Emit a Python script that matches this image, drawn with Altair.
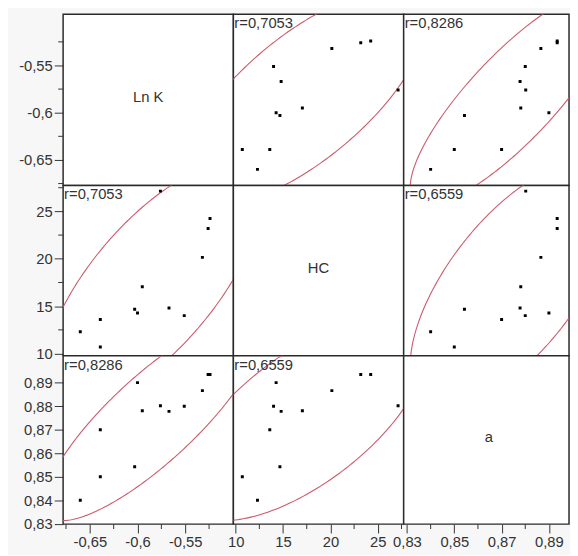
import altair as alt
import numpy as np
import pandas as pd

# ---- data ----
var_names = ["Ln K", "HC", "a"]
ln_k = [-0.639, -0.660, -0.639, -0.551, -0.567, -0.600, -0.603, -0.595, -0.532, -0.526, -0.524, -0.576]
hc = [10.7, 12.3, 13.6, 14.0, 14.8, 14.27, 14.67, 17.04, 20.15, 23.2, 24.25, 27.14]
a_val = [0.850, 0.840, 0.870, 0.880, 0.8778, 0.890, 0.8543, 0.8781, 0.8866, 0.8935, 0.8935, 0.8802]
r_text = {(0, 1): "r=0,7053", (0, 2): "r=0,8286", (1, 2): "r=0,6559"}

# axis ticks (major labelled, minor unlabelled)
x_major = [[-0.65, -0.6, -0.55], [10, 15, 20, 25], [0.83, 0.85, 0.87, 0.89]]
x_minor = [[-0.675, -0.625, -0.575, -0.525], [12.5, 17.5, 22.5, 27.5], [0.84, 0.86, 0.88]]
y_major = [[-0.65, -0.6, -0.55], [10, 15, 20, 25], [0.83, 0.84, 0.85, 0.86, 0.87, 0.88, 0.89]]
y_minor = [[-0.675, -0.625, -0.575, -0.525], [12.5, 17.5, 22.5, 27.5], []]

keys = ["lnk", "hc", "a"]
df = pd.DataFrame({"lnk": ln_k, "hc": hc, "a": a_val})

widths = [173, 173, 168]
heights = [174, 173, 171]
x_dom = [[-0.678, -0.4995], [9.76, 27.73], [0.8286, 0.8985]]
y_dom = [[-0.6771, -0.4958], [9.76, 27.73], [0.8299, 0.9014]]

FONT = "Liberation Sans"
FS = 15
TXT = "#333333"
ELL = "#cc5a6a"
MAJOR_TICK = 9
MINOR_TICK = 5


def ellipse(xs, ys, n=300):
    X = np.array([xs, ys], dtype=float)
    m = X.mean(axis=1)
    L = np.linalg.cholesky(np.cov(X))
    c = np.sqrt(5.991464547)  # 95% bivariate normal contour
    t = np.linspace(0, 2 * np.pi, n)
    p = m[:, None] + c * (L @ np.vstack([np.cos(t), np.sin(t)]))
    return pd.DataFrame({"ex": p[0], "ey": p[1], "i": np.arange(n)})


def make_axis(majors, orient):
    extra = {"minExtent": 55, "maxExtent": 55} if orient == "left" else {}
    return alt.Axis(
        orient=orient,
        values=majors,
        labelExpr="replace(toString(datum.value), '.', ',')",
        tickSize=MAJOR_TICK,
        tickColor=TXT,
        tickWidth=1,
        domain=False,
        grid=False,
        labelFont=FONT,
        labelFontSize=FS,
        labelColor=TXT,
        labelPadding=2,
        labelOverlap=False,
        labelFlush=False,
        title=None,
        **extra,
    )


def panel(r, c):
    W, H = widths[c], heights[r]
    xaxis = make_axis(x_major[c], "bottom") if r == 2 else None
    yaxis = make_axis(y_major[r], "left") if c == 0 else None
    xsc = alt.Scale(domain=x_dom[c], nice=False, zero=False)
    ysc = alt.Scale(domain=y_dom[r], nice=False, zero=False)

    layers = []
    if r == c:
        layers.append(alt.Chart(df).mark_point(opacity=0).encode(
            x=alt.X(f"{keys[c]}:Q", scale=xsc, axis=xaxis),
            y=alt.Y(f"{keys[r]}:Q", scale=ysc, axis=yaxis),
        ))
        layers.append(alt.Chart(pd.DataFrame({"t": [var_names[r]]})).mark_text(
            font=FONT, fontSize=FS, color=TXT, align="center", baseline="middle"
        ).encode(text="t:N", x=alt.value(173 / 2), y=alt.value(H / 2 - 3)))
    else:
        cols = [ln_k, hc, a_val]
        layers.append(alt.Chart(ellipse(cols[c], cols[r])).mark_line(
            color=ELL, strokeWidth=1.1, clip=True
        ).encode(
            x=alt.X("ex:Q", scale=xsc, axis=xaxis),
            y=alt.Y("ey:Q", scale=ysc, axis=yaxis),
            order="i:Q",
        ))
        layers.append(alt.Chart(df).mark_square(size=9, color="black", opacity=1, clip=True).encode(
            x=alt.X(f"{keys[c]}:Q", scale=xsc, axis=xaxis),
            y=alt.Y(f"{keys[r]}:Q", scale=ysc, axis=yaxis),
        ))
        key = (min(r, c), max(r, c))
        layers.append(alt.Chart(pd.DataFrame({"t": [r_text[key]]})).mark_text(
            font=FONT, fontSize=FS, color=TXT, align="left", baseline="top"
        ).encode(text="t:N", x=alt.value(1), y=alt.value(2)))

    # minor ticks (short, unlabelled)
    if c == 0 and y_minor[r]:
        layers.append(alt.Chart(pd.DataFrame({"v": y_minor[r]})).mark_rule(
            color=TXT, strokeWidth=1
        ).encode(
            y=alt.Y("v:Q", scale=ysc, axis=yaxis),
            x=alt.value(-MINOR_TICK), x2=alt.value(0),
        ))
    if r == 2 and x_minor[c]:
        layers.append(alt.Chart(pd.DataFrame({"v": x_minor[c]})).mark_rule(
            color=TXT, strokeWidth=1
        ).encode(
            x=alt.X("v:Q", scale=xsc, axis=xaxis),
            y=alt.value(H), y2=alt.value(H + MINOR_TICK),
        ))
    return alt.layer(*layers).properties(width=W, height=H)


panels = [panel(r, c) for r in range(3) for c in range(3)]
chart = (
    alt.concat(*panels, columns=3, spacing=0, bounds="flush")
    .properties(background="#f7f7f7", padding={"left": 0, "top": 1, "right": 0, "bottom": 0})
    .configure_view(stroke="#2a2a2a", strokeWidth=1.5, fill="white")
)

chart.save("out.html", embed_options={"renderer": "svg", "actions": False})
